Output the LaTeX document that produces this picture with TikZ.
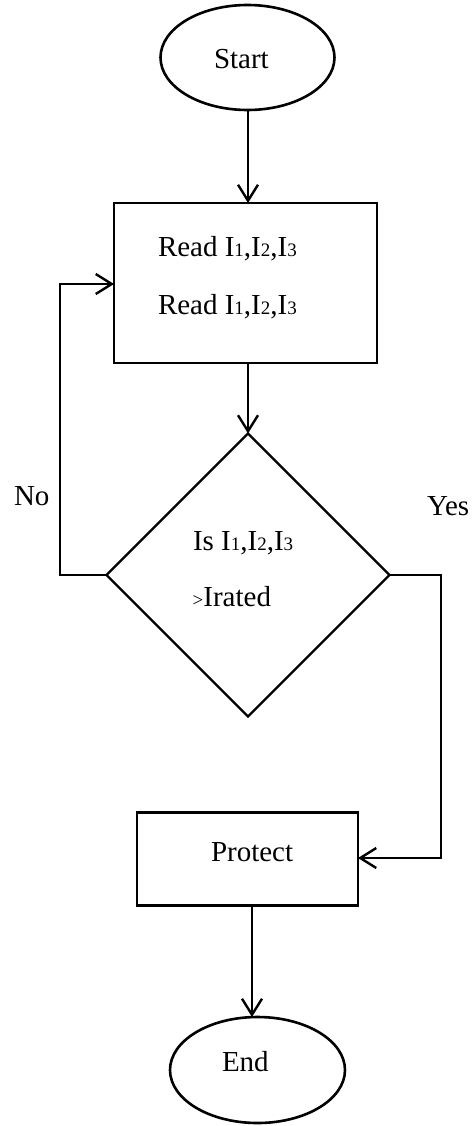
\documentclass[tikz,border=0pt]{standalone}
\usepackage{fontspec}
\setmainfont{Liberation Serif}
\usetikzlibrary{shapes.geometric,arrows.meta}

% small digits sitting on the baseline, as in I1, I2, I3
\newcommand{\sm}[1]{{\fontsize{19}{19}\selectfont #1}}

\begin{document}
\begin{tikzpicture}[x=1pt,y=-1pt,
  every node/.style={inner sep=0pt, outer sep=0pt},
  flowline/.style={line width=2.4pt},
  arrowline/.style={flowline, -{Straight Barb[length=16pt,width=20pt,line width=2.4pt]}},
  terminal/.style={draw, line width=2.6pt, ellipse},
  procbox/.style={draw, line width=2.4pt, rectangle},
  decbox/.style={draw, line width=2.4pt, diamond, aspect=1},
  txt/.style={anchor=base west, font=\fontsize{29}{29}\selectfont}
]
\useasboundingbox (0,0) rectangle (472,1126);

% shapes
\node[terminal, minimum width=174pt, minimum height=105pt] (start) at (247.5,57.5) {};
\node[procbox, minimum width=263pt, minimum height=160pt] (read) at (245.5,283) {};
\node[decbox, minimum width=283pt, minimum height=283pt] (dec) at (248,575) {};
\node[procbox, minimum width=221pt, minimum height=93pt] (prot) at (247.5,859) {};
\node[terminal, minimum width=175pt, minimum height=106pt] (end) at (257.5,1070) {};

% texts
\node[txt] (tstart) at (214,68.3) {Start};
\node[txt] (tread1) at (158,256.7) {Read I\sm{1},I\sm{2},I\sm{3}};
\node[txt] (tread2) at (158,314) {Read I\sm{1},I\sm{2},I\sm{3}};
\node[txt] (tdec1) at (193,550) {Is I\sm{1},I\sm{2},I\sm{3}};
\node[txt] (tdec2) at (192.7,606) {\sm{>}Irated};
\node[txt] (tno) at (14,505) {No};
\node[txt] (tyes) at (427,515) {Yes};
\node[txt] (tprot) at (211,861.7) {Protect};
\node[txt] (tend) at (222,1071.7) {End};

% loop corners
\coordinate (noA) at (60,575);
\coordinate (noB) at (60,284);
\coordinate (yesA) at (441,575);
\coordinate (yesB) at (441,858);

% connectors
\draw[arrowline] (248,110) -- (248,203);
\draw[arrowline] (read.south -| dec.north) -- (dec.north);
\draw[arrowline] (dec.west) -- (noA) -- (noB) -- (noB -| read.west);
\draw[arrowline] (dec.east) -- (yesA) -- (yesB) -- (yesB -| prot.east);
\draw[arrowline] (252,906) -- (252,1017);
\end{tikzpicture}
\end{document}
